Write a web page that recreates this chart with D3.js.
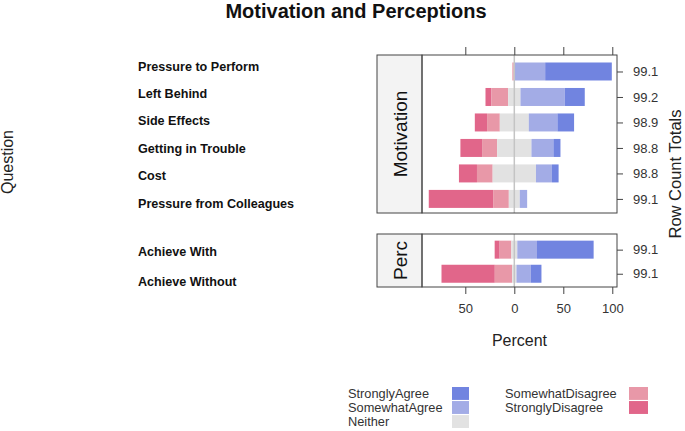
<!DOCTYPE html>
<html><head><meta charset="utf-8">
<script src="https://cdn.jsdelivr.net/npm/d3@7"></script>
<style>body{margin:0;background:#fff}svg{display:block}</style>
</head><body><svg id="c" width="685" height="431"></svg>
<script>
// ---------- data ----------
const levels = ["StronglyDisagree","SomewhatDisagree","Neither","SomewhatAgree","StronglyAgree"];
const levelColors = ["#e1668a","#e898a8","#e2e2e2","#a3ace6","#7184e0"];

const motivationQuestions = ["Pressure to Perform","Left Behind","Side Effects","Getting in Trouble","Cost","Pressure from Colleagues"];
const motivationStronglyDisagree = [0, 6.1, 12.5, 22.1, 18.4, 65.7];
const motivationSomewhatDisagree = [1.5, 17, 13, 15.4, 16, 16];
const motivationNeither          = [1, 12.6, 29.6, 35, 44.2, 11.2];
const motivationSomewhatAgree    = [31, 45.2, 29.2, 22.4, 16.3, 7.5];
const motivationStronglyAgree    = [68, 20.4, 17, 7.2, 6.8, 0];
const motivationTotals = ["99.1","99.2","98.9","98.8","98.8","99.1"];

const percQuestions = ["Achieve With","Achieve Without"];
const percStronglyDisagree = [5.1, 54.4];
const percSomewhatDisagree = [11.9, 17.7];
const percNeither          = [6.1, 4.4];
const percSomewhatAgree    = [20.1, 14.6];
const percStronglyAgree    = [57.8, 10.9];
const percTotals = ["99.1","99.1"];

const xTicks = [-50, 0, 50, 100];
const legendLeft = ["StronglyAgree","SomewhatAgree","Neither"];
const legendRight = ["SomewhatDisagree","StronglyDisagree"];

// ---------- layout ----------
const FONT = "'Liberation Sans', Arial, Helvetica, sans-serif";
const svg = d3.select("#c").style("font-family", FONT);
const stripX0 = 377, plotX0 = 422, plotX1 = 617;
const x = d3.scaleLinear().domain([-94.2, 104.8]).range([plotX0, plotX1]);

const panels = [
  {strip:"Motivation", top:55, bottom:213, q:motivationQuestions, totals:motivationTotals,
   vals:[motivationStronglyDisagree,motivationSomewhatDisagree,motivationNeither,motivationSomewhatAgree,motivationStronglyAgree],
   labelRange:[66,203], stripSize:19},
  {strip:"Perc", top:234, bottom:287, q:percQuestions, totals:percTotals,
   vals:[percStronglyDisagree,percSomewhatDisagree,percNeither,percSomewhatAgree,percStronglyAgree],
   labelRange:[251,281], stripSize:19}
];

const barH = 18;
panels.forEach((p, pi) => {
  const y = d3.scalePoint().domain(p.q).range([p.top + 1.2, p.bottom + 1.2]).padding(0.6);
  const g = svg.append("g");
  // strip
  g.append("rect").attr("x", stripX0).attr("y", p.top).attr("width", plotX0 - stripX0).attr("height", p.bottom - p.top)
    .attr("fill", "#f3f3f3").attr("stroke", "#444").attr("stroke-width", 1);
  g.append("text").attr("transform", `translate(${(stripX0+plotX0)/2 + 7},${(p.top+p.bottom)/2}) rotate(-90)`)
    .attr("text-anchor", "middle").attr("font-size", p.stripSize).attr("fill", "#111").text(p.strip);
  // bars
  const rows = p.q.map((q, i) => {
    const v = p.vals.map(a => a[i]);
    let start = -(v[0] + v[1] + v[2] / 2);
    return v.map((val, k) => { const s = {q, k, x0:start, x1:start+val}; start += val; return s; });
  }).flat().filter(s => s.x1 - s.x0 > 0);
  g.selectAll("rect.bar").data(rows).join("rect").attr("class","bar")
    .attr("x", d => x(d.x0)).attr("width", d => x(d.x1) - x(d.x0))
    .attr("y", d => y(d.q) - barH/2).attr("height", barH)
    .attr("fill", d => levelColors[d.k]);
  // zero line
  g.append("line").attr("x1", x(0)).attr("x2", x(0)).attr("y1", p.top).attr("y2", p.bottom)
    .attr("stroke", "#c4c4c4").attr("stroke-width", 1.5);
  // panel border
  g.append("rect").attr("x", plotX0).attr("y", p.top).attr("width", plotX1 - plotX0).attr("height", p.bottom - p.top)
    .attr("fill", "none").attr("stroke", "#444").attr("stroke-width", 1);
  // right axis: row count totals
  const ra = g.append("g").attr("transform", `translate(${plotX1},0)`)
    .call(d3.axisRight(y).tickSize(6).tickPadding(10).tickFormat((d, i) => p.totals[i]));
  ra.select(".domain").remove();
  ra.selectAll("line").attr("stroke", "#444");
  ra.selectAll("text").attr("font-size", 13).attr("fill", "#333").attr("font-family", FONT);
  // question labels
  const ly = d3.scalePoint().domain(p.q).range(p.labelRange);
  g.selectAll("text.q").data(p.q).join("text").attr("class","q")
    .attr("x", 138).attr("y", d => ly(d)).attr("dy", "0.36em")
    .attr("font-size", 12.6).attr("font-weight", "bold").attr("fill", "#111").text(d => d);
});

// top ticks on first panel
const ta = svg.append("g").attr("transform", `translate(0,${panels[0].top})`)
  .call(d3.axisTop(x).tickValues(xTicks).tickSize(8).tickFormat(""));
ta.select(".domain").remove();
ta.selectAll("line").attr("stroke", "#444");

// bottom axis
const ba = svg.append("g").attr("transform", `translate(0,${panels[1].bottom})`)
  .call(d3.axisBottom(x).tickValues(xTicks).tickSize(7).tickPadding(10).tickFormat(d => Math.abs(d)));
ba.select(".domain").remove();
ba.selectAll("line").attr("stroke", "#444");
ba.selectAll("text").attr("font-size", 13).attr("fill", "#333").attr("font-family", FONT);

// titles
svg.append("text").attr("x", 356).attr("y", 18).attr("text-anchor", "middle")
  .attr("font-size", 20).attr("font-weight", "bold").attr("fill", "#111").text("Motivation and Perceptions");
svg.append("text").attr("x", (plotX0 + plotX1) / 2).attr("y", 346).attr("text-anchor", "middle")
  .attr("font-size", 16).attr("fill", "#222").text("Percent");
svg.append("text").attr("transform", "translate(13,162) rotate(-90)").attr("text-anchor", "middle")
  .attr("font-size", 16).attr("fill", "#222").text("Question");
svg.append("text").attr("transform", "translate(681,174) rotate(-90)").attr("text-anchor", "middle")
  .attr("font-size", 16.5).attr("fill", "#222").text("Row Count Totals");

// legend
const colorOf = name => levelColors[levels.indexOf(name)];
const legendY = d3.scaleBand().domain([0,1,2]).range([387, 428]).paddingInner(0.08);
function legendCol(items, tx, sx, sw) {
  const lg = svg.append("g");
  lg.selectAll("rect").data(items).join("rect")
    .attr("x", sx).attr("y", (d, i) => legendY(i)).attr("width", sw).attr("height", legendY.bandwidth())
    .attr("fill", d => colorOf(d));
  lg.selectAll("text").data(items).join("text")
    .attr("x", tx).attr("y", (d, i) => legendY(i) + legendY.bandwidth() / 2).attr("dy", "0.36em")
    .attr("font-size", 12.8).attr("fill", "#333").text(d => d);
}
legendCol(legendLeft, 348, 452, 17);
legendCol(legendRight, 505, 629, 19);
</script></body></html>
